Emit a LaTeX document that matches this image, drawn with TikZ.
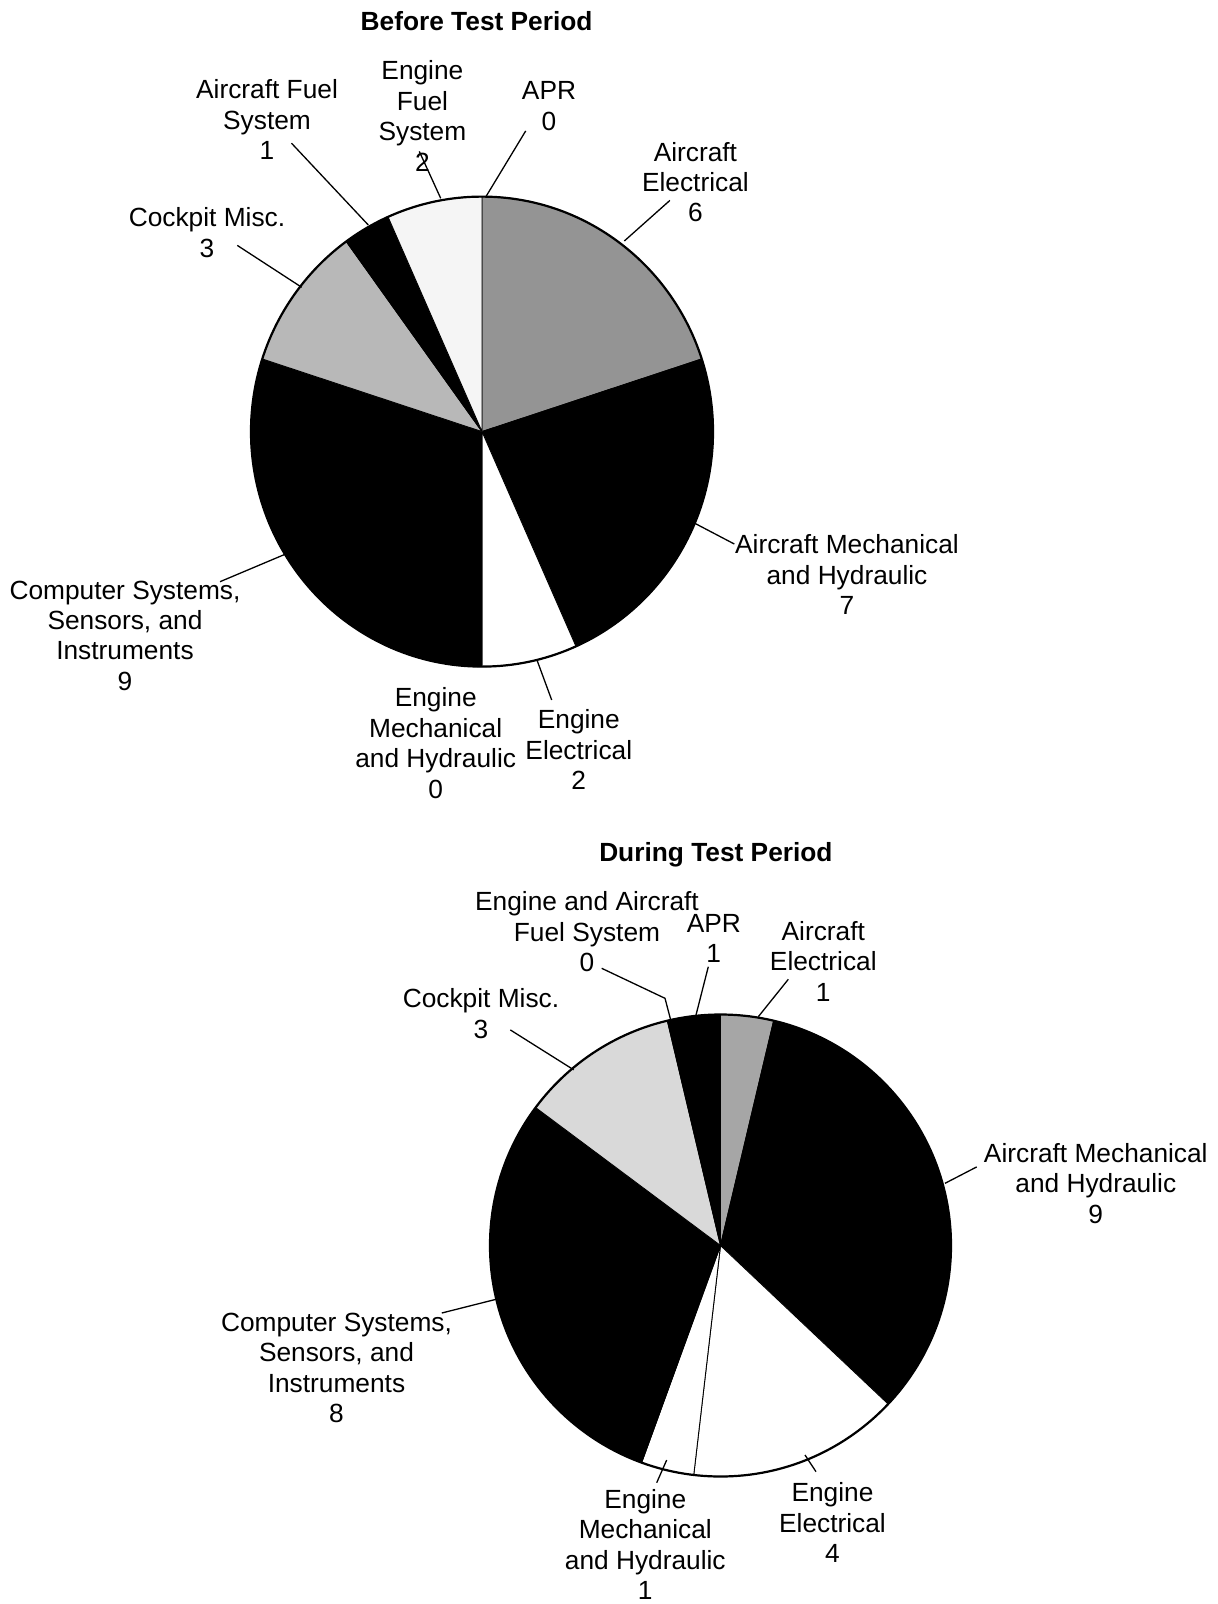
\documentclass[tikz,border=0pt]{standalone}
\usepackage{fontspec}
\setmainfont{Liberation Sans}
\newcommand\myslice[6]{% center, start, end, rx, ry, fill
  \filldraw[slice, fill=#6] (#1) -- ++(#2:#4 and #5) arc[start angle=#2, end angle=#3, x radius=#4, y radius=#5] -- cycle;}
\begin{document}
\begin{tikzpicture}[x=1pt,y=-1pt,
  lbl/.style={align=center, inner sep=0pt, font=\fontsize{26.3}{30.4}\selectfont},
  ttl/.style={inner sep=0pt, anchor=base, font=\fontsize{26.3}{30.4}\selectfont\bfseries},
  leader/.style={line width=1.3pt, draw=black},
  slice/.style={draw=black, line width=0.9pt, line join=round},
  rim/.style={draw=black, line width=2.2pt}]
\useasboundingbox (0,0) rectangle (1218,1604);
\fill[white] (0,0) rectangle (1218,1604);

% ---------------- Pie 1: Before Test Period ----------------
\coordinate (P1) at (482,431.6);
\myslice{P1}{90}{18}{231pt}{235pt}{black!42}
\myslice{P1}{18}{-66}{231pt}{235pt}{black}
\myslice{P1}{-66}{-90}{231pt}{235pt}{white}
\myslice{P1}{-90}{-198}{231pt}{235pt}{black}
\myslice{P1}{-198}{-234}{231pt}{235pt}{black!28}
\myslice{P1}{-234}{-246}{231pt}{235pt}{black}
\myslice{P1}{-246}{-270}{231pt}{235pt}{black!4}
\draw[rim] (P1) ellipse [x radius=231pt, y radius=235pt];

\node[ttl] (t1) at (476.6,30.9) {Before Test Period};

\node[lbl] (afs1) at (267,119.7) {Aircraft Fuel\\System\\1};
\node[lbl] (efs1) at (422.4,116) {Engine\\Fuel\\System\\2};
\node[lbl] (apr1) at (549,105.9) {APR\\0};
\node[lbl] (ae1) at (695.4,182) {Aircraft\\Electrical\\6};
\node[lbl] (cm1) at (207,232.7) {Cockpit Misc.\\3};
\node[lbl] (amh1) at (847,574.8) {Aircraft Mechanical\\and Hydraulic\\7};
\node[lbl] (cs1) at (125,635.6) {Computer Systems,\\Sensors, and\\Instruments\\9};
\node[lbl] (emh1) at (435.7,743) {Engine\\Mechanical\\and Hydraulic\\0};
\node[lbl] (ee1) at (578.8,749.6) {Engine\\Electrical\\2};

\coordinate (afs1a) at (291.5,143.2); \coordinate (afs1b) at (368.3,225);
\coordinate (efs1a) at (419.3,151.4); \coordinate (efs1b) at (440.7,198.3);
\coordinate (apr1a) at (525.7,130.9); \coordinate (apr1b) at (486,196.5);
\coordinate (ae1a) at (669.9,200.4);  \coordinate (ae1b) at (624.3,241);
\coordinate (cm1a) at (237.3,245.4);  \coordinate (cm1b) at (301.7,287.3);
\coordinate (amh1a) at (734.3,544);   \coordinate (amh1b) at (695.4,523.6);
\coordinate (cs1a) at (220,581.7);    \coordinate (cs1b) at (285,554.3);
\coordinate (ee1a) at (551.7,700);    \coordinate (ee1b) at (536.7,659.3);
\draw[leader] (afs1a) -- (afs1b);
\draw[leader] (efs1a) -- (efs1b);
\draw[leader] (apr1a) -- (apr1b);
\draw[leader] (ae1a) -- (ae1b);
\draw[leader] (cm1a) -- (cm1b);
\draw[leader] (amh1a) -- (amh1b);
\draw[leader] (cs1a) -- (cs1b);
\draw[leader] (ee1a) -- (ee1b);

% ---------------- Pie 2: During Test Period ----------------
\coordinate (P2) at (720.5,1245.5);
\myslice{P2}{90}{76.667}{230.5pt}{231pt}{black!35}
\myslice{P2}{76.667}{-43.333}{230.5pt}{231pt}{black}
\myslice{P2}{-43.333}{-96.667}{230.5pt}{231pt}{white}
\myslice{P2}{-96.667}{-110}{230.5pt}{231pt}{white}
\myslice{P2}{-110}{-216.667}{230.5pt}{231pt}{black}
\myslice{P2}{-216.667}{-256.667}{230.5pt}{231pt}{black!15}
\myslice{P2}{-256.667}{-270}{230.5pt}{231pt}{black}
\draw[rim] (P2) ellipse [x radius=230.5pt, y radius=231pt];

\node[ttl] (t2) at (715.9,861.3) {During Test Period};

\node[lbl] (fs2) at (587,931.7) {Engine and Aircraft\\Fuel System\\0};
\node[lbl] (apr2) at (713.8,938.3) {APR\\1};
\node[lbl] (ae2) at (823.3,961.3) {Aircraft\\Electrical\\1};
\node[lbl] (cm2) at (481,1013.5) {Cockpit Misc.\\3};
\node[lbl] (amh2) at (1095.8,1183.3) {Aircraft Mechanical\\and Hydraulic\\9};
\node[lbl] (cs2) at (336.5,1367.9) {Computer Systems,\\Sensors, and\\Instruments\\8};
\node[lbl] (emh2) at (645.3,1544.5) {Engine\\Mechanical\\and Hydraulic\\1};
\node[lbl] (ee2) at (832.5,1522.8) {Engine\\Electrical\\4};

\coordinate (fs2a) at (601.7,968.3); \coordinate (fs2k) at (665,998.3); \coordinate (fs2b) at (670.7,1020);
\coordinate (apr2a) at (708.3,966.7); \coordinate (apr2b) at (696,1015);
\coordinate (ae2a) at (788.3,979.3);  \coordinate (ae2b) at (758.3,1016.7);
\coordinate (cm2a) at (510.3,1029.9); \coordinate (cm2b) at (573.7,1069.8);
\coordinate (amh2a) at (976.7,1166.9); \coordinate (amh2b) at (945,1183.3);
\coordinate (cs2a) at (441.8,1313);   \coordinate (cs2b) at (498,1298.8);
\coordinate (emh2a) at (656.7,1482.7); \coordinate (emh2b) at (666.7,1460);
\coordinate (ee2a) at (816,1471.7);   \coordinate (ee2b) at (805,1455);
\draw[leader] (fs2a) -- (fs2k) -- (fs2b);
\draw[leader] (apr2a) -- (apr2b);
\draw[leader] (ae2a) -- (ae2b);
\draw[leader] (cm2a) -- (cm2b);
\draw[leader] (amh2a) -- (amh2b);
\draw[leader] (cs2a) -- (cs2b);
\draw[leader] (emh2a) -- (emh2b);
\draw[leader] (ee2a) -- (ee2b);
\end{tikzpicture}
\end{document}
